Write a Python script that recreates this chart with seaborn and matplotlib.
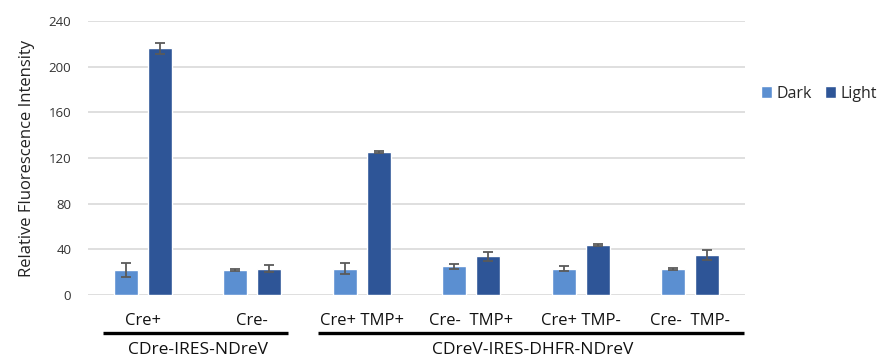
import matplotlib
matplotlib.use("Agg")
import matplotlib.pyplot as plt
import matplotlib.transforms as mtransforms
import seaborn as sns
import pandas as pd

# Measured fluorescence (mean and error) per condition
conditions = ["Cre+", "Cre-", "Cre+ TMP+", "Cre-  TMP+", "Cre+ TMP-", "Cre-  TMP-"]
dark_mean = [22, 22, 23, 25, 23, 23]
dark_err = [6, 1, 5, 2, 2, 1]
light_mean = [216, 23, 125, 34, 44, 35]
light_err = [5, 3, 1, 4, 1, 4]
constructs = ["CDre-IRES-NDreV", "CDreV-IRES-DHFR-NDreV"]
construct_span = [(-0.36, 1.33), (1.60, 5.49)]
yticks = [0, 40, 80, 120, 160, 200, 240]

dark_color = "#5B8FD1"
light_color = "#2E5597"

df = pd.DataFrame({
    "condition": conditions * 2,
    "state": ["Dark"] * len(conditions) + ["Light"] * len(conditions),
    "value": dark_mean + light_mean,
})

sns.set_theme(style="white")
plt.rcParams["font.family"] = ["Open Sans", "DejaVu Sans"]

fig = plt.figure(figsize=(8.89, 3.6), dpi=100)
ax = fig.add_axes([0.099, 0.1806, 0.739, 0.7611])

sns.barplot(data=df, x="condition", y="value", hue="state",
            palette=[dark_color, light_color], saturation=1, width=0.62, gap=0.29,
            errorbar=None, ax=ax, zorder=2)

for cont, errs in zip(ax.containers, [dark_err, light_err]):
    xs = [b.get_x() + b.get_width() / 2 for b in cont]
    ys = [b.get_height() for b in cont]
    ax.errorbar(xs, ys, yerr=errs, fmt="none", ecolor="#5a5a5a",
                elinewidth=1.3, capsize=3.5, capthick=1.3, zorder=3)

ax.set_ylim(0, 240)
ax.set_xlim(-0.5, len(conditions) - 0.5)
ax.set_yticks(yticks)
ax.yaxis.grid(True, color="#d9d9d9", linewidth=1.2, zorder=0)
ax.set_axisbelow(True)
for s in ax.spines.values():
    s.set_visible(False)
ax.tick_params(axis="y", labelsize=9.5, colors="#333333", pad=12, length=0)
ax.tick_params(axis="x", labelsize=12, colors="#111111", pad=13, length=0)
ax.set_xlabel("")
ax.set_ylabel("Relative Fluorescence Intensity", fontsize=12, color="#222222", labelpad=10)

trans = mtransforms.blended_transform_factory(ax.transData, ax.transAxes)
for name, (x0, x1) in zip(constructs, construct_span):
    ax.plot([x0, x1], [-0.139, -0.139], color="black", linewidth=2.4,
            transform=trans, clip_on=False, solid_capstyle="butt")
    ax.text((x0 + x1) / 2 + 0.02, -0.20, name, transform=trans, ha="center",
            va="center", fontsize=12.5, color="#111111")

handles, labels = ax.get_legend_handles_labels()
ax.legend(handles, labels, loc="center left", bbox_to_anchor=(0.845, 0.74),
          bbox_transform=fig.transFigure, ncol=2, frameon=False,
          fontsize=11.5, handlelength=0.7, handleheight=0.7,
          handletextpad=0.3, columnspacing=0.8, borderpad=0.1)

fig.savefig("out.png", dpi=100)
